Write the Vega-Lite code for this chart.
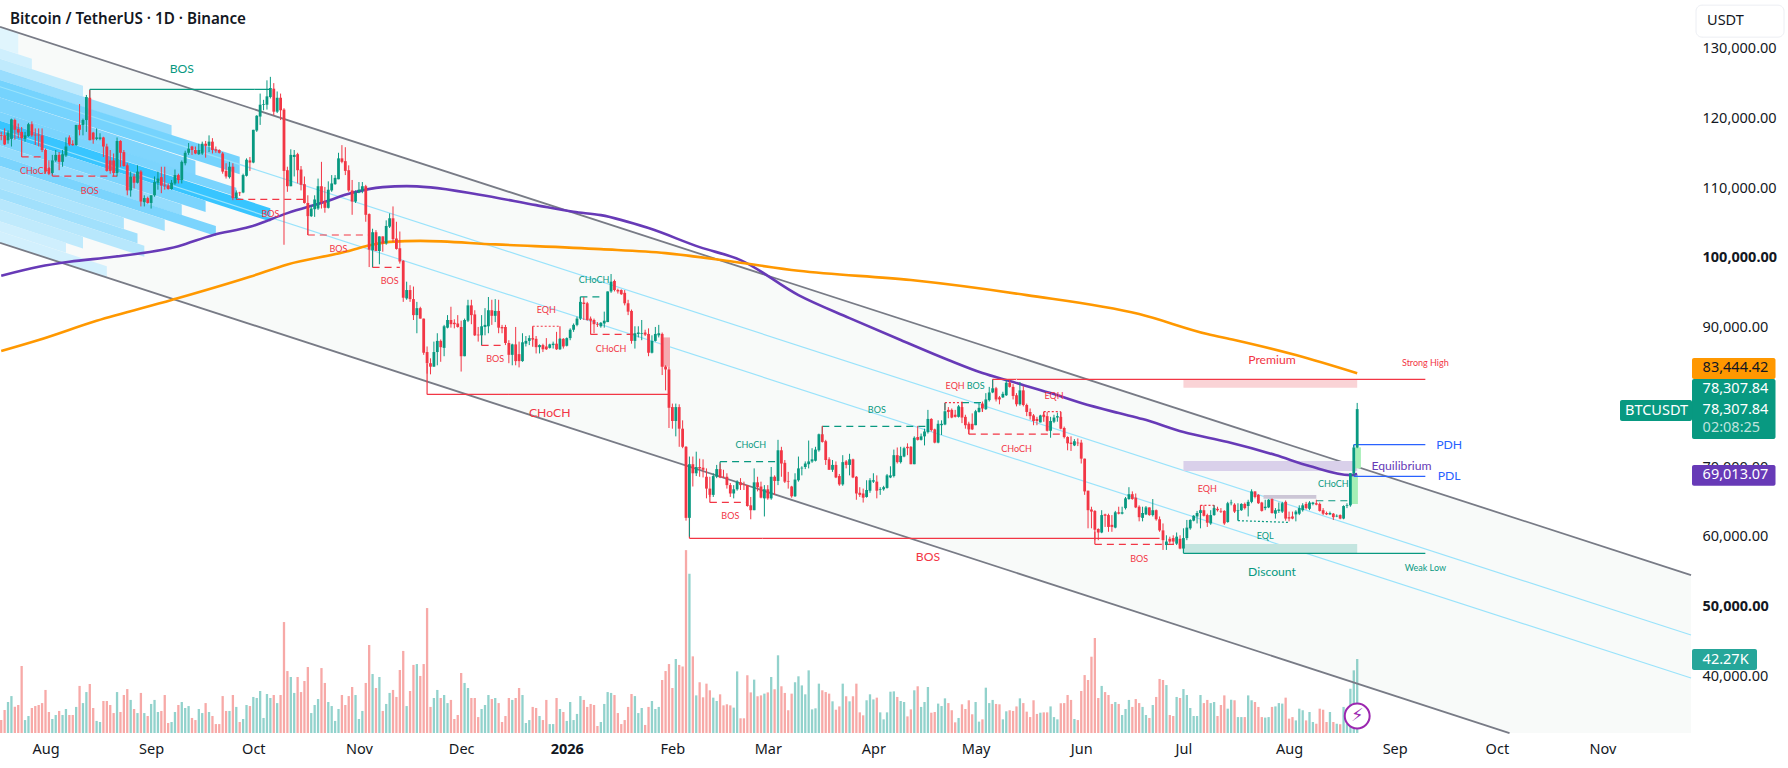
{
"$schema":"https://vega.github.io/schema/vega-lite/v6.json",
"width":1788,"height":768,"autosize":"none","padding":0,"background":"white",
"title":{"text":"Bitcoin / TetherUS · 1D · Binance","anchor":"start","frame":"group","offset":-27,"dx":10,"font":"Noto Sans","fontSize":15.2,"fontWeight":600,"color":"#131722"},
"config":{"view":{"stroke":null},"font":"Noto Sans"},
"datasets":{
"candles":[
{"d":"2025-07-19","o":117600,"h":118100,"l":116900,"c":117500,"v":7400},
{"d":"2025-07-20","o":117600,"h":118600,"l":116200,"c":116300,"v":13100},
{"d":"2025-07-21","o":116900,"h":118300,"l":116400,"c":118000,"v":17700},
{"d":"2025-07-22","o":117100,"h":120000,"l":116000,"c":119900,"v":21100},
{"d":"2025-07-23","o":119800,"h":120000,"l":117000,"c":118400,"v":15000},
{"d":"2025-07-24","o":118500,"h":119300,"l":117200,"c":118000,"v":16000},
{"d":"2025-07-25","o":118100,"h":118800,"l":116900,"c":117200,"v":38300},
{"d":"2025-07-26","o":117100,"h":118100,"l":116700,"c":117600,"v":7400},
{"d":"2025-07-27","o":117500,"h":119400,"l":117400,"c":119200,"v":9700},
{"d":"2025-07-28","o":119200,"h":119600,"l":117400,"c":117600,"v":14300},
{"d":"2025-07-29","o":117700,"h":118600,"l":116200,"c":117600,"v":15400},
{"d":"2025-07-30","o":117700,"h":118600,"l":116000,"c":117600,"v":16000},
{"d":"2025-07-31","o":117600,"h":118600,"l":115200,"c":115500,"v":17100},
{"d":"2025-08-01","o":115500,"h":115700,"l":112100,"c":112400,"v":24600},
{"d":"2025-08-02","o":112900,"h":114000,"l":111900,"c":112100,"v":12000},
{"d":"2025-08-03","o":112200,"h":114800,"l":112000,"c":114000,"v":8000},
{"d":"2025-08-04","o":114000,"h":115500,"l":113800,"c":114800,"v":10300},
{"d":"2025-08-05","o":114800,"h":115200,"l":112600,"c":113800,"v":12600},
{"d":"2025-08-06","o":113800,"h":115500,"l":113100,"c":114900,"v":10300},
{"d":"2025-08-07","o":114700,"h":117300,"l":114500,"c":116000,"v":13700},
{"d":"2025-08-08","o":117300,"h":117600,"l":116100,"c":116300,"v":10300},
{"d":"2025-08-09","o":116400,"h":116900,"l":116100,"c":116200,"v":10300},
{"d":"2025-08-10","o":116200,"h":119100,"l":116100,"c":119100,"v":14900},
{"d":"2025-08-11","o":119100,"h":122100,"l":117600,"c":118400,"v":26900},
{"d":"2025-08-12","o":119100,"h":120000,"l":117600,"c":119800,"v":17100},
{"d":"2025-08-13","o":119800,"h":123400,"l":118100,"c":123100,"v":23400},
{"d":"2025-08-14","o":123000,"h":124100,"l":116900,"c":116900,"v":28000},
{"d":"2025-08-15","o":118000,"h":118100,"l":116400,"c":117000,"v":14300},
{"d":"2025-08-16","o":117100,"h":118600,"l":116900,"c":117300,"v":6900},
{"d":"2025-08-17","o":117100,"h":117900,"l":116900,"c":117300,"v":6300},
{"d":"2025-08-18","o":117300,"h":117400,"l":114500,"c":116000,"v":18300},
{"d":"2025-08-19","o":116000,"h":116400,"l":112400,"c":112500,"v":18300},
{"d":"2025-08-20","o":114000,"h":115500,"l":112100,"c":112500,"v":16000},
{"d":"2025-08-21","o":114000,"h":115000,"l":111700,"c":112200,"v":11400},
{"d":"2025-08-22","o":112200,"h":117300,"l":111700,"c":116800,"v":23400},
{"d":"2025-08-23","o":116800,"h":116900,"l":113100,"c":115100,"v":12000},
{"d":"2025-08-24","o":115200,"h":115500,"l":113100,"c":113200,"v":21700},
{"d":"2025-08-25","o":113300,"h":113600,"l":109000,"c":109700,"v":25100},
{"d":"2025-08-26","o":109700,"h":112400,"l":108800,"c":111700,"v":18900},
{"d":"2025-08-27","o":111700,"h":112100,"l":110000,"c":110800,"v":13700},
{"d":"2025-08-28","o":110800,"h":113300,"l":110700,"c":112400,"v":11400},
{"d":"2025-08-29","o":112400,"h":112600,"l":107400,"c":108100,"v":22900},
{"d":"2025-08-30","o":108000,"h":109000,"l":107400,"c":108600,"v":11400},
{"d":"2025-08-31","o":108600,"h":108800,"l":107800,"c":107900,"v":9700},
{"d":"2025-09-01","o":107900,"h":109000,"l":107100,"c":109000,"v":16600},
{"d":"2025-09-02","o":109000,"h":111700,"l":108800,"c":110900,"v":18900},
{"d":"2025-09-03","o":110800,"h":112400,"l":109800,"c":111400,"v":12000},
{"d":"2025-09-04","o":111600,"h":113100,"l":109300,"c":110400,"v":12600},
{"d":"2025-09-05","o":110500,"h":113100,"l":109800,"c":110400,"v":21700},
{"d":"2025-09-06","o":110400,"h":110700,"l":109800,"c":109900,"v":5700},
{"d":"2025-09-07","o":109900,"h":111200,"l":109800,"c":110800,"v":6300},
{"d":"2025-09-08","o":110700,"h":112700,"l":110500,"c":111900,"v":12000},
{"d":"2025-09-09","o":111900,"h":112100,"l":110700,"c":111200,"v":16000},
{"d":"2025-09-10","o":111200,"h":114000,"l":110700,"c":113800,"v":17700},
{"d":"2025-09-11","o":113600,"h":115400,"l":113300,"c":115100,"v":14300},
{"d":"2025-09-12","o":115100,"h":116500,"l":114800,"c":115700,"v":15400},
{"d":"2025-09-13","o":116000,"h":116100,"l":114800,"c":115500,"v":8600},
{"d":"2025-09-14","o":115500,"h":116000,"l":114900,"c":115000,"v":7400},
{"d":"2025-09-15","o":114900,"h":116400,"l":114800,"c":115500,"v":13700},
{"d":"2025-09-16","o":115000,"h":116700,"l":114800,"c":116400,"v":11400},
{"d":"2025-09-17","o":116400,"h":116800,"l":114400,"c":116100,"v":17100},
{"d":"2025-09-18","o":116100,"h":117600,"l":115200,"c":116700,"v":12000},
{"d":"2025-09-19","o":116700,"h":117200,"l":115000,"c":115500,"v":9700},
{"d":"2025-09-20","o":115600,"h":116000,"l":115100,"c":115400,"v":5100},
{"d":"2025-09-21","o":115500,"h":115600,"l":115000,"c":115100,"v":5100},
{"d":"2025-09-22","o":115000,"h":115200,"l":112100,"c":112400,"v":21100},
{"d":"2025-09-23","o":112500,"h":113600,"l":111400,"c":111700,"v":12600},
{"d":"2025-09-24","o":111600,"h":113800,"l":111400,"c":113100,"v":12600},
{"d":"2025-09-25","o":113100,"h":113600,"l":108300,"c":108600,"v":21700},
{"d":"2025-09-26","o":108600,"h":109700,"l":108400,"c":109400,"v":14900},
{"d":"2025-09-27","o":109400,"h":109500,"l":108900,"c":109300,"v":6300},
{"d":"2025-09-28","o":109400,"h":112100,"l":109300,"c":111900,"v":8000},
{"d":"2025-09-29","o":111800,"h":114300,"l":111700,"c":114100,"v":16000},
{"d":"2025-09-30","o":114000,"h":114500,"l":112500,"c":113700,"v":15400},
{"d":"2025-10-01","o":113700,"h":118400,"l":113600,"c":118400,"v":20600},
{"d":"2025-10-02","o":118300,"h":120500,"l":118100,"c":120400,"v":20000},
{"d":"2025-10-03","o":120300,"h":123600,"l":119100,"c":122000,"v":24000},
{"d":"2025-10-04","o":122000,"h":122700,"l":121200,"c":122100,"v":8600},
{"d":"2025-10-05","o":122000,"h":125500,"l":121300,"c":123200,"v":22300},
{"d":"2025-10-06","o":123100,"h":126000,"l":122900,"c":124400,"v":20000},
{"d":"2025-10-07","o":124300,"h":125100,"l":120500,"c":121000,"v":21700},
{"d":"2025-10-08","o":121000,"h":123900,"l":120800,"c":123000,"v":17100},
{"d":"2025-10-09","o":123000,"h":123600,"l":119800,"c":121200,"v":21700},
{"d":"2025-10-10","o":121300,"h":121500,"l":101900,"c":112500,"v":63400},
{"d":"2025-10-11","o":112600,"h":113100,"l":109500,"c":110300,"v":35400},
{"d":"2025-10-12","o":110300,"h":115600,"l":110300,"c":114800,"v":32000},
{"d":"2025-10-13","o":114500,"h":115500,"l":111700,"c":114800,"v":22900},
{"d":"2025-10-14","o":114900,"h":115100,"l":110700,"c":112600,"v":32000},
{"d":"2025-10-15","o":112700,"h":113200,"l":109700,"c":110500,"v":23400},
{"d":"2025-10-16","o":110600,"h":111700,"l":107800,"c":107900,"v":29700},
{"d":"2025-10-17","o":107900,"h":109000,"l":103300,"c":106000,"v":37700},
{"d":"2025-10-18","o":106000,"h":107600,"l":105900,"c":107100,"v":11400},
{"d":"2025-10-19","o":107000,"h":109000,"l":105900,"c":108400,"v":16000},
{"d":"2025-10-20","o":107100,"h":111400,"l":106900,"c":110300,"v":19400},
{"d":"2025-10-21","o":110300,"h":113800,"l":107100,"c":108000,"v":37100},
{"d":"2025-10-22","o":108100,"h":110200,"l":106500,"c":107200,"v":28600},
{"d":"2025-10-23","o":107200,"h":111000,"l":107100,"c":109800,"v":17700},
{"d":"2025-10-24","o":109700,"h":111900,"l":109500,"c":110700,"v":15400},
{"d":"2025-10-25","o":110600,"h":111900,"l":110500,"c":111500,"v":6900},
{"d":"2025-10-26","o":111300,"h":115100,"l":111300,"c":114300,"v":13700},
{"d":"2025-10-27","o":114300,"h":116200,"l":113600,"c":113800,"v":21700},
{"d":"2025-10-28","o":113900,"h":115900,"l":111900,"c":112500,"v":16000},
{"d":"2025-10-29","o":112600,"h":113300,"l":109500,"c":109700,"v":21100},
{"d":"2025-10-30","o":109700,"h":111200,"l":106200,"c":108100,"v":26300},
{"d":"2025-10-31","o":108100,"h":109700,"l":107900,"c":109400,"v":21700},
{"d":"2025-11-01","o":109400,"h":110900,"l":109300,"c":109800,"v":8000},
{"d":"2025-11-02","o":109700,"h":110900,"l":109300,"c":110300,"v":12600},
{"d":"2025-11-03","o":110300,"h":110500,"l":105200,"c":106200,"v":28600},
{"d":"2025-11-04","o":106300,"h":106400,"l":98700,"c":101200,"v":50300},
{"d":"2025-11-05","o":101100,"h":104200,"l":98700,"c":103700,"v":33700},
{"d":"2025-11-06","o":103700,"h":104000,"l":101000,"c":101000,"v":25700},
{"d":"2025-11-07","o":101000,"h":103100,"l":99100,"c":103100,"v":32000},
{"d":"2025-11-08","o":103100,"h":103100,"l":100900,"c":102100,"v":12600},
{"d":"2025-11-09","o":102100,"h":105400,"l":101900,"c":104600,"v":16600},
{"d":"2025-11-10","o":104500,"h":106400,"l":104300,"c":105700,"v":22900},
{"d":"2025-11-11","o":105700,"h":107400,"l":102300,"c":102700,"v":24600},
{"d":"2025-11-12","o":102800,"h":105200,"l":101200,"c":101300,"v":20600},
{"d":"2025-11-13","o":101400,"h":103800,"l":99200,"c":99500,"v":36000},
{"d":"2025-11-14","o":99600,"h":99700,"l":93700,"c":94300,"v":46900},
{"d":"2025-11-15","o":94200,"h":96600,"l":94000,"c":95400,"v":15400},
{"d":"2025-11-16","o":95400,"h":96100,"l":93700,"c":94100,"v":24000},
{"d":"2025-11-17","o":94100,"h":95900,"l":91100,"c":91800,"v":38900},
{"d":"2025-11-18","o":91800,"h":93700,"l":89200,"c":92800,"v":39400},
{"d":"2025-11-19","o":92800,"h":93000,"l":91300,"c":91300,"v":32600},
{"d":"2025-11-20","o":91300,"h":91300,"l":86100,"c":86400,"v":39400},
{"d":"2025-11-21","o":86500,"h":87300,"l":83400,"c":84900,"v":71400},
{"d":"2025-11-22","o":84900,"h":85600,"l":83300,"c":84400,"v":14900},
{"d":"2025-11-23","o":84400,"h":88000,"l":84400,"c":86500,"v":20000},
{"d":"2025-11-24","o":86500,"h":89200,"l":84600,"c":88100,"v":24600},
{"d":"2025-11-25","o":88100,"h":88300,"l":85100,"c":87200,"v":20000},
{"d":"2025-11-26","o":87100,"h":90400,"l":85900,"c":90200,"v":21700},
{"d":"2025-11-27","o":90000,"h":91800,"l":89900,"c":91100,"v":17100},
{"d":"2025-11-28","o":91100,"h":93000,"l":90000,"c":90500,"v":18900},
{"d":"2025-11-29","o":90700,"h":91200,"l":89900,"c":90500,"v":8000},
{"d":"2025-11-30","o":90600,"h":91800,"l":90000,"c":90100,"v":10300},
{"d":"2025-12-01","o":90100,"h":91000,"l":83700,"c":85900,"v":34300},
{"d":"2025-12-02","o":85900,"h":91300,"l":85900,"c":91100,"v":28600},
{"d":"2025-12-03","o":91000,"h":94000,"l":90800,"c":93200,"v":25700},
{"d":"2025-12-04","o":93200,"h":94000,"l":90500,"c":91800,"v":20000},
{"d":"2025-12-05","o":91900,"h":92500,"l":88800,"c":88900,"v":20000},
{"d":"2025-12-06","o":89000,"h":90100,"l":88000,"c":88900,"v":9100},
{"d":"2025-12-07","o":88900,"h":91800,"l":87500,"c":90200,"v":13700},
{"d":"2025-12-08","o":90100,"h":92800,"l":88900,"c":90400,"v":16000},
{"d":"2025-12-09","o":90200,"h":94400,"l":89200,"c":92500,"v":21700},
{"d":"2025-12-10","o":92500,"h":94000,"l":90400,"c":91700,"v":19400},
{"d":"2025-12-11","o":91700,"h":94100,"l":90800,"c":92400,"v":20000},
{"d":"2025-12-12","o":92400,"h":94000,"l":89200,"c":90000,"v":17100},
{"d":"2025-12-13","o":90100,"h":90400,"l":89200,"c":89900,"v":6300},
{"d":"2025-12-14","o":90100,"h":90400,"l":87500,"c":87800,"v":9700},
{"d":"2025-12-15","o":87800,"h":88200,"l":84900,"c":86100,"v":20000},
{"d":"2025-12-16","o":86100,"h":87700,"l":84600,"c":87600,"v":18900},
{"d":"2025-12-17","o":87600,"h":90100,"l":84600,"c":85200,"v":20000},
{"d":"2025-12-18","o":86200,"h":88000,"l":84300,"c":85200,"v":25700},
{"d":"2025-12-19","o":85200,"h":89200,"l":85100,"c":87900,"v":21700},
{"d":"2025-12-20","o":87700,"h":88800,"l":87300,"c":88100,"v":5700},
{"d":"2025-12-21","o":88100,"h":88900,"l":87500,"c":88500,"v":7400},
{"d":"2025-12-22","o":88500,"h":90100,"l":88200,"c":88300,"v":14900},
{"d":"2025-12-23","o":88400,"h":88800,"l":86300,"c":87200,"v":14300},
{"d":"2025-12-24","o":87200,"h":87600,"l":86300,"c":87500,"v":9700},
{"d":"2025-12-25","o":87500,"h":87700,"l":86500,"c":86900,"v":7400},
{"d":"2025-12-26","o":87300,"h":88500,"l":86800,"c":86900,"v":18900},
{"d":"2025-12-27","o":87100,"h":87700,"l":87000,"c":87600,"v":5100},
{"d":"2025-12-28","o":87500,"h":88000,"l":87000,"c":87700,"v":5100},
{"d":"2025-12-29","o":87700,"h":89400,"l":86800,"c":86900,"v":20000},
{"d":"2025-12-30","o":86900,"h":88500,"l":86800,"c":88400,"v":13700},
{"d":"2025-12-31","o":88400,"h":88500,"l":87000,"c":87300,"v":12000},
{"d":"2026-01-01","o":87400,"h":88600,"l":87300,"c":88500,"v":6900},
{"d":"2026-01-02","o":88500,"h":89900,"l":88200,"c":89700,"v":17700},
{"d":"2026-01-03","o":89700,"h":90600,"l":89400,"c":90400,"v":7400},
{"d":"2026-01-04","o":90400,"h":91600,"l":90200,"c":91300,"v":10900},
{"d":"2026-01-05","o":91300,"h":94400,"l":91100,"c":93700,"v":21100},
{"d":"2026-01-06","o":93600,"h":94400,"l":91100,"c":93400,"v":18900},
{"d":"2026-01-07","o":93500,"h":93700,"l":91000,"c":91100,"v":14900},
{"d":"2026-01-08","o":91300,"h":91600,"l":90400,"c":91000,"v":16600},
{"d":"2026-01-09","o":91100,"h":91300,"l":89200,"c":90500,"v":16000},
{"d":"2026-01-10","o":90500,"h":90800,"l":90100,"c":90400,"v":4000},
{"d":"2026-01-11","o":90200,"h":90800,"l":90000,"c":90700,"v":6300},
{"d":"2026-01-12","o":90600,"h":92300,"l":90000,"c":91000,"v":16600},
{"d":"2026-01-13","o":90800,"h":95200,"l":90800,"c":95200,"v":23400},
{"d":"2026-01-14","o":95200,"h":97700,"l":95000,"c":96600,"v":22900},
{"d":"2026-01-15","o":96700,"h":96900,"l":95200,"c":95400,"v":21700},
{"d":"2026-01-16","o":95400,"h":95600,"l":94900,"c":95200,"v":11400},
{"d":"2026-01-17","o":95400,"h":95500,"l":94700,"c":94800,"v":5100},
{"d":"2026-01-18","o":95000,"h":95400,"l":93200,"c":93500,"v":7400},
{"d":"2026-01-19","o":93500,"h":94000,"l":91800,"c":92300,"v":14900},
{"d":"2026-01-20","o":92400,"h":92600,"l":87700,"c":88100,"v":22300},
{"d":"2026-01-21","o":88100,"h":90200,"l":87000,"c":89200,"v":21100},
{"d":"2026-01-22","o":89100,"h":90200,"l":88600,"c":89300,"v":11400},
{"d":"2026-01-23","o":89100,"h":91100,"l":88200,"c":89200,"v":14300},
{"d":"2026-01-24","o":89300,"h":89700,"l":88800,"c":89000,"v":4600},
{"d":"2026-01-25","o":89100,"h":89900,"l":85900,"c":86400,"v":14900},
{"d":"2026-01-26","o":86400,"h":88900,"l":86300,"c":88100,"v":18300},
{"d":"2026-01-27","o":88100,"h":90100,"l":88000,"c":89100,"v":13700},
{"d":"2026-01-28","o":88900,"h":90400,"l":88600,"c":89200,"v":14900},
{"d":"2026-01-29","o":89100,"h":89300,"l":83200,"c":84400,"v":30300},
{"d":"2026-01-30","o":84400,"h":84600,"l":81000,"c":84000,"v":35400},
{"d":"2026-01-31","o":84000,"h":84400,"l":75600,"c":78500,"v":39400},
{"d":"2026-02-01","o":78600,"h":79100,"l":75500,"c":76600,"v":25700},
{"d":"2026-02-02","o":76600,"h":79100,"l":74400,"c":78600,"v":42300},
{"d":"2026-02-03","o":78600,"h":79000,"l":72900,"c":75500,"v":38900},
{"d":"2026-02-04","o":75500,"h":76700,"l":72700,"c":72900,"v":38000},
{"d":"2026-02-05","o":72900,"h":73000,"l":62300,"c":62700,"v":104500},
{"d":"2026-02-06","o":62700,"h":71500,"l":60000,"c":70400,"v":91000},
{"d":"2026-02-07","o":70400,"h":71500,"l":67200,"c":69100,"v":43800},
{"d":"2026-02-08","o":69100,"h":72200,"l":68700,"c":70000,"v":21500},
{"d":"2026-02-09","o":70000,"h":71200,"l":68600,"c":69800,"v":29000},
{"d":"2026-02-10","o":69900,"h":71100,"l":68500,"c":69600,"v":20400},
{"d":"2026-02-11","o":68600,"h":69800,"l":65500,"c":66900,"v":28200},
{"d":"2026-02-12","o":66900,"h":68600,"l":65700,"c":66000,"v":24400},
{"d":"2026-02-13","o":66000,"h":69100,"l":65700,"c":68700,"v":20200},
{"d":"2026-02-14","o":68600,"h":70300,"l":68400,"c":69700,"v":18300},
{"d":"2026-02-15","o":69700,"h":70500,"l":68400,"c":68500,"v":22100},
{"d":"2026-02-16","o":68600,"h":69600,"l":68400,"c":68500,"v":15800},
{"d":"2026-02-17","o":68600,"h":69100,"l":66900,"c":67400,"v":16400},
{"d":"2026-02-18","o":67400,"h":67700,"l":65700,"c":66200,"v":15800},
{"d":"2026-02-19","o":66200,"h":67400,"l":65500,"c":66800,"v":14500},
{"d":"2026-02-20","o":66800,"h":68100,"l":66600,"c":67900,"v":35200},
{"d":"2026-02-21","o":67800,"h":68400,"l":66700,"c":67400,"v":8400},
{"d":"2026-02-22","o":67500,"h":67900,"l":66700,"c":67400,"v":8400},
{"d":"2026-02-23","o":67400,"h":67400,"l":64300,"c":64400,"v":33000},
{"d":"2026-02-24","o":64500,"h":65700,"l":62500,"c":63800,"v":23200},
{"d":"2026-02-25","o":63800,"h":69800,"l":63800,"c":67800,"v":30500},
{"d":"2026-02-26","o":67800,"h":68600,"l":66500,"c":67100,"v":21000},
{"d":"2026-02-27","o":67200,"h":67900,"l":65500,"c":65600,"v":21500},
{"d":"2026-02-28","o":65500,"h":67400,"l":62900,"c":66800,"v":22500},
{"d":"2026-03-01","o":66800,"h":67400,"l":65300,"c":65500,"v":23200},
{"d":"2026-03-02","o":65500,"h":70000,"l":65300,"c":68600,"v":32000},
{"d":"2026-03-03","o":68600,"h":68800,"l":66000,"c":68000,"v":25000},
{"d":"2026-03-04","o":68000,"h":73900,"l":67400,"c":72400,"v":44400},
{"d":"2026-03-05","o":72400,"h":72900,"l":68600,"c":70500,"v":26700},
{"d":"2026-03-06","o":70600,"h":71000,"l":67700,"c":67900,"v":22900},
{"d":"2026-03-07","o":68000,"h":69300,"l":66900,"c":67900,"v":13000},
{"d":"2026-03-08","o":67200,"h":67300,"l":65600,"c":65800,"v":22500},
{"d":"2026-03-09","o":65800,"h":69100,"l":65700,"c":68200,"v":29000},
{"d":"2026-03-10","o":68100,"h":71500,"l":67900,"c":69800,"v":32400},
{"d":"2026-03-11","o":69800,"h":70100,"l":68800,"c":69900,"v":27200},
{"d":"2026-03-12","o":70000,"h":70800,"l":69700,"c":70500,"v":22100},
{"d":"2026-03-13","o":70400,"h":73800,"l":69800,"c":70800,"v":35800},
{"d":"2026-03-14","o":70800,"h":72700,"l":70600,"c":71100,"v":13500},
{"d":"2026-03-15","o":70900,"h":72900,"l":70800,"c":72500,"v":14100},
{"d":"2026-03-16","o":72400,"h":74800,"l":72200,"c":74700,"v":28200},
{"d":"2026-03-17","o":74700,"h":75900,"l":73500,"c":73600,"v":24400},
{"d":"2026-03-18","o":73700,"h":73900,"l":70300,"c":71000,"v":23400},
{"d":"2026-03-19","o":71100,"h":71400,"l":69600,"c":69600,"v":22500},
{"d":"2026-03-20","o":69600,"h":71000,"l":69300,"c":70300,"v":18100},
{"d":"2026-03-21","o":70300,"h":70800,"l":68400,"c":68500,"v":13300},
{"d":"2026-03-22","o":68700,"h":69000,"l":67300,"c":67500,"v":15200},
{"d":"2026-03-23","o":67500,"h":71700,"l":67300,"c":70700,"v":28200},
{"d":"2026-03-24","o":70800,"h":71000,"l":69800,"c":70300,"v":21000},
{"d":"2026-03-25","o":70300,"h":71900,"l":68800,"c":71100,"v":18100},
{"d":"2026-03-26","o":71100,"h":71200,"l":68400,"c":68500,"v":21000},
{"d":"2026-03-27","o":68600,"h":68700,"l":65300,"c":66200,"v":28200},
{"d":"2026-03-28","o":66300,"h":67100,"l":65700,"c":66000,"v":11800},
{"d":"2026-03-29","o":66200,"h":66900,"l":64900,"c":65600,"v":10100},
{"d":"2026-03-30","o":65700,"h":68100,"l":65600,"c":66700,"v":18700},
{"d":"2026-03-31","o":66600,"h":68400,"l":66300,"c":68100,"v":22100},
{"d":"2026-04-01","o":67900,"h":69100,"l":67700,"c":68100,"v":19200},
{"d":"2026-04-02","o":67900,"h":68800,"l":65500,"c":66600,"v":20200},
{"d":"2026-04-03","o":66700,"h":67100,"l":66000,"c":66800,"v":11800},
{"d":"2026-04-04","o":66800,"h":67300,"l":66600,"c":67100,"v":7800},
{"d":"2026-04-05","o":67000,"h":69000,"l":66900,"c":68800,"v":11800},
{"d":"2026-04-06","o":68500,"h":70100,"l":68400,"c":68800,"v":23600},
{"d":"2026-04-07","o":68700,"h":72500,"l":68500,"c":71700,"v":23800},
{"d":"2026-04-08","o":71700,"h":72800,"l":70500,"c":70700,"v":20600},
{"d":"2026-04-09","o":70700,"h":72900,"l":70500,"c":71600,"v":18300},
{"d":"2026-04-10","o":71500,"h":72900,"l":71400,"c":72700,"v":17700},
{"d":"2026-04-11","o":72900,"h":73400,"l":71700,"c":72700,"v":9500},
{"d":"2026-04-12","o":72900,"h":73000,"l":70400,"c":70400,"v":13500},
{"d":"2026-04-13","o":70400,"h":74400,"l":70400,"c":74200,"v":24400},
{"d":"2026-04-14","o":74300,"h":75900,"l":73800,"c":73900,"v":26700},
{"d":"2026-04-15","o":73900,"h":74800,"l":73800,"c":74400,"v":14900},
{"d":"2026-04-16","o":74400,"h":75500,"l":73100,"c":75100,"v":17700},
{"d":"2026-04-17","o":75000,"h":78200,"l":74800,"c":76900,"v":26300},
{"d":"2026-04-18","o":76900,"h":77000,"l":75100,"c":75300,"v":11600},
{"d":"2026-04-19","o":75400,"h":75500,"l":73400,"c":73500,"v":12000},
{"d":"2026-04-20","o":73500,"h":76700,"l":73400,"c":76200,"v":16800},
{"d":"2026-04-21","o":76000,"h":76700,"l":74600,"c":76200,"v":15400},
{"d":"2026-04-22","o":76100,"h":79200,"l":76000,"c":78000,"v":19800},
{"d":"2026-04-23","o":78200,"h":78600,"l":77000,"c":77900,"v":17100},
{"d":"2026-04-24","o":78200,"h":78400,"l":77000,"c":77100,"v":13000},
{"d":"2026-04-25","o":77500,"h":78200,"l":77100,"c":77200,"v":6100},
{"d":"2026-04-26","o":77200,"h":78900,"l":77100,"c":78700,"v":8600},
{"d":"2026-04-27","o":78600,"h":79400,"l":76300,"c":77100,"v":16400},
{"d":"2026-04-28","o":77200,"h":77500,"l":75500,"c":76000,"v":13700},
{"d":"2026-04-29","o":76200,"h":76500,"l":74700,"c":75400,"v":18700},
{"d":"2026-04-30","o":76200,"h":77700,"l":75300,"c":75400,"v":10700},
{"d":"2026-05-01","o":76000,"h":78200,"l":76000,"c":78000,"v":17700},
{"d":"2026-05-02","o":77900,"h":79200,"l":77800,"c":78500,"v":6500},
{"d":"2026-05-03","o":79100,"h":79400,"l":77900,"c":78400,"v":7800},
{"d":"2026-05-04","o":78300,"h":80600,"l":78200,"c":79700,"v":25900},
{"d":"2026-05-05","o":79600,"h":81500,"l":79400,"c":80700,"v":17100},
{"d":"2026-05-06","o":80700,"h":82500,"l":80600,"c":81300,"v":18900},
{"d":"2026-05-07","o":81300,"h":81500,"l":79400,"c":79700,"v":16600},
{"d":"2026-05-08","o":80000,"h":80200,"l":79000,"c":79700,"v":16400},
{"d":"2026-05-09","o":80000,"h":80800,"l":79900,"c":80500,"v":7800},
{"d":"2026-05-10","o":80300,"h":82500,"l":80200,"c":82100,"v":12400},
{"d":"2026-05-11","o":82100,"h":82500,"l":81400,"c":81500,"v":13000},
{"d":"2026-05-12","o":81500,"h":81900,"l":79700,"c":80200,"v":12600},
{"d":"2026-05-13","o":80300,"h":80600,"l":78700,"c":79000,"v":15200},
{"d":"2026-05-14","o":79000,"h":82200,"l":78800,"c":81000,"v":19800},
{"d":"2026-05-15","o":81000,"h":81600,"l":78700,"c":78900,"v":17100},
{"d":"2026-05-16","o":78900,"h":79100,"l":77300,"c":77900,"v":12200},
{"d":"2026-05-17","o":77900,"h":78400,"l":76800,"c":77300,"v":9100},
{"d":"2026-05-18","o":77400,"h":77600,"l":76000,"c":76600,"v":18700},
{"d":"2026-05-19","o":76900,"h":77200,"l":76000,"c":76600,"v":10900},
{"d":"2026-05-20","o":76400,"h":77500,"l":76400,"c":77400,"v":11600},
{"d":"2026-05-21","o":77500,"h":77900,"l":77100,"c":77200,"v":11800},
{"d":"2026-05-22","o":77300,"h":77900,"l":75100,"c":75200,"v":11800},
{"d":"2026-05-23","o":75200,"h":77200,"l":74200,"c":76600,"v":15200},
{"d":"2026-05-24","o":76500,"h":77500,"l":76300,"c":77100,"v":9100},
{"d":"2026-05-25","o":77100,"h":77800,"l":76500,"c":77300,"v":7800},
{"d":"2026-05-26","o":77200,"h":77900,"l":75400,"c":75500,"v":17000},
{"d":"2026-05-27","o":75600,"h":75800,"l":74100,"c":74300,"v":17100},
{"d":"2026-05-28","o":74300,"h":74400,"l":72400,"c":73400,"v":21700},
{"d":"2026-05-29","o":73500,"h":74400,"l":72300,"c":73300,"v":18900},
{"d":"2026-05-30","o":73100,"h":74000,"l":73000,"c":73700,"v":8000},
{"d":"2026-05-31","o":73500,"h":74100,"l":73000,"c":73400,"v":7400},
{"d":"2026-06-01","o":73500,"h":73900,"l":70500,"c":71200,"v":24000},
{"d":"2026-06-02","o":71200,"h":71200,"l":66000,"c":66500,"v":33100},
{"d":"2026-06-03","o":66600,"h":66600,"l":61200,"c":63800,"v":30300},
{"d":"2026-06-04","o":63900,"h":64300,"l":61200,"c":63600,"v":43600},
{"d":"2026-06-05","o":63700,"h":63800,"l":59500,"c":61000,"v":54300},
{"d":"2026-06-06","o":61100,"h":61200,"l":59500,"c":60600,"v":20000},
{"d":"2026-06-07","o":60600,"h":63800,"l":60500,"c":63100,"v":26900},
{"d":"2026-06-08","o":63200,"h":63300,"l":61400,"c":63000,"v":23400},
{"d":"2026-06-09","o":63100,"h":63300,"l":60700,"c":61400,"v":21700},
{"d":"2026-06-10","o":61700,"h":63100,"l":60700,"c":61400,"v":16600},
{"d":"2026-06-11","o":61300,"h":63700,"l":61200,"c":63500,"v":17700},
{"d":"2026-06-12","o":63500,"h":64300,"l":63200,"c":63300,"v":16600},
{"d":"2026-06-13","o":63300,"h":64300,"l":63200,"c":63500,"v":10300},
{"d":"2026-06-14","o":64100,"h":65700,"l":63900,"c":65500,"v":13700},
{"d":"2026-06-15","o":65400,"h":67100,"l":65300,"c":66100,"v":18900},
{"d":"2026-06-16","o":66100,"h":66500,"l":65300,"c":65400,"v":14900},
{"d":"2026-06-17","o":65600,"h":66200,"l":64100,"c":64200,"v":19400},
{"d":"2026-06-18","o":64300,"h":64500,"l":62200,"c":62800,"v":17100},
{"d":"2026-06-19","o":62700,"h":64300,"l":62200,"c":63400,"v":14900},
{"d":"2026-06-20","o":63200,"h":64400,"l":63100,"c":64200,"v":10300},
{"d":"2026-06-21","o":64200,"h":64200,"l":63000,"c":63100,"v":8600},
{"d":"2026-06-22","o":63100,"h":65400,"l":62900,"c":63800,"v":16000},
{"d":"2026-06-23","o":63800,"h":63900,"l":62300,"c":62500,"v":20600},
{"d":"2026-06-24","o":62500,"h":62900,"l":60700,"c":60900,"v":30900},
{"d":"2026-06-25","o":60900,"h":61900,"l":58100,"c":59500,"v":30300},
{"d":"2026-06-26","o":58800,"h":60200,"l":58100,"c":59300,"v":27400},
{"d":"2026-06-27","o":59700,"h":60000,"l":59000,"c":59300,"v":10300},
{"d":"2026-06-28","o":59800,"h":60200,"l":58800,"c":59300,"v":9700},
{"d":"2026-06-29","o":59000,"h":60600,"l":58800,"c":60000,"v":20600},
{"d":"2026-06-30","o":59700,"h":60200,"l":58200,"c":58300,"v":20000},
{"d":"2026-07-01","o":58300,"h":61200,"l":58200,"c":59800,"v":25100},
{"d":"2026-07-02","o":59800,"h":62400,"l":59500,"c":61300,"v":21700},
{"d":"2026-07-03","o":61200,"h":62500,"l":61000,"c":62400,"v":14300},
{"d":"2026-07-04","o":62300,"h":63100,"l":62200,"c":63000,"v":9700},
{"d":"2026-07-05","o":62900,"h":63700,"l":61900,"c":63400,"v":9700},
{"d":"2026-07-06","o":63400,"h":63900,"l":61200,"c":63800,"v":21700},
{"d":"2026-07-07","o":63800,"h":64500,"l":62900,"c":63000,"v":17100},
{"d":"2026-07-08","o":63100,"h":63300,"l":61400,"c":62000,"v":18900},
{"d":"2026-07-09","o":61900,"h":63800,"l":61700,"c":63100,"v":17100},
{"d":"2026-07-10","o":63100,"h":64500,"l":63000,"c":64100,"v":17700},
{"d":"2026-07-11","o":64000,"h":64300,"l":63600,"c":63800,"v":9700},
{"d":"2026-07-12","o":63700,"h":64100,"l":63400,"c":63600,"v":16000},
{"d":"2026-07-13","o":63700,"h":63800,"l":61700,"c":61900,"v":21500},
{"d":"2026-07-14","o":62100,"h":65000,"l":62000,"c":64800,"v":13900},
{"d":"2026-07-15","o":64800,"h":65300,"l":64500,"c":64900,"v":19000},
{"d":"2026-07-16","o":64600,"h":64800,"l":63400,"c":63600,"v":18700},
{"d":"2026-07-17","o":63700,"h":64800,"l":62400,"c":63800,"v":9100},
{"d":"2026-07-18","o":63800,"h":64800,"l":63700,"c":64700,"v":9100},
{"d":"2026-07-19","o":64700,"h":64900,"l":63900,"c":64100,"v":9100},
{"d":"2026-07-20","o":64400,"h":65300,"l":62900,"c":65000,"v":21500},
{"d":"2026-07-21","o":65000,"h":66800,"l":64800,"c":66500,"v":18700},
{"d":"2026-07-22","o":66500,"h":66500,"l":65500,"c":65700,"v":17700},
{"d":"2026-07-23","o":66000,"h":66100,"l":64700,"c":64800,"v":14900},
{"d":"2026-07-24","o":64900,"h":65000,"l":63600,"c":63700,"v":9100},
{"d":"2026-07-25","o":64100,"h":65300,"l":63800,"c":64300,"v":8800},
{"d":"2026-07-26","o":64200,"h":65400,"l":64100,"c":65300,"v":9100},
{"d":"2026-07-27","o":65400,"h":65500,"l":63300,"c":63400,"v":14900},
{"d":"2026-07-28","o":63300,"h":64100,"l":62600,"c":63800,"v":15200},
{"d":"2026-07-29","o":63700,"h":64900,"l":63400,"c":63900,"v":17100},
{"d":"2026-07-30","o":63600,"h":65000,"l":63400,"c":64800,"v":16800},
{"d":"2026-07-31","o":65000,"h":65200,"l":62300,"c":62600,"v":20200},
{"d":"2026-08-01","o":62800,"h":63600,"l":62200,"c":62600,"v":8200},
{"d":"2026-08-02","o":62900,"h":63600,"l":62500,"c":62600,"v":9100},
{"d":"2026-08-03","o":63200,"h":63800,"l":62200,"c":63600,"v":7200},
{"d":"2026-08-04","o":63300,"h":64500,"l":63100,"c":64100,"v":13900},
{"d":"2026-08-05","o":63800,"h":64800,"l":63600,"c":64500,"v":13000},
{"d":"2026-08-06","o":64700,"h":65000,"l":63900,"c":64100,"v":7200},
{"d":"2026-08-07","o":64000,"h":65100,"l":63800,"c":64900,"v":12000},
{"d":"2026-08-08","o":64700,"h":65000,"l":64500,"c":64900,"v":6300},
{"d":"2026-08-09","o":64800,"h":65300,"l":64500,"c":64600,"v":5300},
{"d":"2026-08-10","o":64700,"h":64900,"l":63600,"c":63700,"v":13900},
{"d":"2026-08-11","o":63800,"h":64100,"l":63100,"c":63300,"v":13300},
{"d":"2026-08-12","o":63400,"h":63600,"l":63100,"c":63200,"v":6300},
{"d":"2026-08-13","o":63200,"h":63600,"l":63100,"c":63400,"v":12000},
{"d":"2026-08-14","o":63300,"h":63400,"l":62400,"c":62800,"v":6300},
{"d":"2026-08-15","o":62900,"h":63200,"l":62800,"c":63000,"v":5300},
{"d":"2026-08-16","o":63100,"h":63200,"l":62500,"c":62600,"v":5000},
{"d":"2026-08-17","o":62600,"h":64500,"l":62500,"c":64400,"v":14900},
{"d":"2026-08-18","o":64400,"h":64800,"l":64100,"c":64500,"v":5300},
{"d":"2026-08-19","o":64500,"h":69100,"l":64300,"c":69100,"v":25300},
{"d":"2026-08-20","o":69100,"h":73200,"l":68800,"c":72800,"v":35800},
{"d":"2026-08-21","o":72800,"h":79200,"l":72700,"c":78308,"v":42270}
],
"channel":[
{"d":"2025-07-18T15:29:00Z","top":133170,"bot":102180},
{"d":"2026-10-04T16:55:00Z","top":62930,"bot":31818},
{"d":"2026-11-26T23:29:00Z","top":54490,"bot":31818}
],
"rays":[
{"d":"2025-07-18T15:29:00Z","d2":"2026-11-26T23:29:00Z","p":133170,"p2":54490,"k":"outer"},
{"d":"2025-07-18T15:29:00Z","d2":"2026-10-04T16:55:00Z","p":102180,"p2":31818,"k":"outer"},
{"d":"2025-07-18T15:29:00Z","d2":"2026-11-26T23:29:00Z","p":124580,"p2":45880,"k":"inner"},
{"d":"2025-07-18T15:29:00Z","d2":"2026-11-26T23:29:00Z","p":118410,"p2":39710,"k":"inner"}
],
"bands":[
{"b":"A","lvl":0.08,"d":"2025-07-18T15:29:00Z","p":133180,"p2":130120},{"b":"A","lvl":0.08,"d":"2025-07-24","p":132330,"p2":129270},
{"b":"B","lvl":0.2,"d":"2025-07-18T15:29:00Z","p":130120,"p2":128590},{"b":"B","lvl":0.2,"d":"2025-07-28","p":128610,"p2":127080},
{"b":"C","lvl":0.3,"d":"2025-07-18T15:29:00Z","p":128590,"p2":127060},{"b":"C","lvl":0.3,"d":"2025-08-12","p":124710,"p2":123180},
{"b":"D","lvl":0.55,"d":"2025-07-18T15:29:00Z","p":127060,"p2":125530},{"b":"D","lvl":0.55,"d":"2025-09-07","p":119070,"p2":117540},
{"b":"E","lvl":0.75,"d":"2025-07-18T15:29:00Z","p":125530,"p2":123040},{"b":"E","lvl":0.75,"d":"2025-09-27","p":114520,"p2":112030},
{"b":"F","lvl":0.7,"d":"2025-07-18T15:29:00Z","p":123040,"p2":120940},{"b":"F","lvl":0.7,"d":"2025-09-14","p":113930,"p2":111830},
{"b":"G","lvl":0.72,"d":"2025-07-18T15:29:00Z","p":120940,"p2":119700},{"b":"G","lvl":0.72,"d":"2025-09-26","p":110080,"p2":108840},
{"b":"H","lvl":1,"d":"2025-07-18T15:29:00Z","p":119700,"p2":117780},{"b":"H","lvl":1,"d":"2025-10-06","p":107140,"p2":105220},
{"b":"I","lvl":0.72,"d":"2025-07-18T15:29:00Z","p":117780,"p2":116160},{"b":"I","lvl":0.72,"d":"2025-09-17","p":108210,"p2":106590},
{"b":"J","lvl":0.58,"d":"2025-07-18T15:29:00Z","p":116160,"p2":114630},{"b":"J","lvl":0.58,"d":"2025-09-10","p":107670,"p2":106140},
{"b":"K","lvl":0.72,"d":"2025-07-18T15:29:00Z","p":114630,"p2":113190},{"b":"K","lvl":0.72,"d":"2025-09-20","p":104580,"p2":103140},
{"b":"L","lvl":0.5,"d":"2025-07-18T15:29:00Z","p":113190,"p2":111560},{"b":"L","lvl":0.5,"d":"2025-09-05","p":105510,"p2":103880},
{"b":"M","lvl":0.42,"d":"2025-07-18T15:29:00Z","p":111560,"p2":109940},{"b":"M","lvl":0.42,"d":"2025-08-24","p":105790,"p2":104170},
{"b":"N","lvl":0.5,"d":"2025-07-18T15:29:00Z","p":109940,"p2":108500},{"b":"N","lvl":0.5,"d":"2025-08-28","p":103530,"p2":102090},
{"b":"O","lvl":0.36,"d":"2025-07-18T15:29:00Z","p":108500,"p2":106920},{"b":"O","lvl":0.36,"d":"2025-08-30","p":101750,"p2":100170},
{"b":"P","lvl":0.3,"d":"2025-07-18T15:29:00Z","p":106920,"p2":105250},{"b":"P","lvl":0.3,"d":"2025-08-12","p":103040,"p2":101370},
{"b":"Q","lvl":0.2,"d":"2025-07-18T15:29:00Z","p":105250,"p2":103820},{"b":"Q","lvl":0.2,"d":"2025-08-07","p":102180,"p2":100750},
{"b":"R","lvl":0.18,"d":"2025-07-18T15:29:00Z","p":103820,"p2":102190},{"b":"R","lvl":0.18,"d":"2025-08-19","p":98820,"p2":97190}
],
"zones":[
{"d":"2026-07-01","d2":"2026-08-21","p":82480,"p2":81380,"k":"premium"},
{"d":"2026-07-01","d2":"2026-08-21","p":70860,"p2":69420,"k":"equilibrium"},
{"d":"2026-07-01","d2":"2026-08-21","p":58950,"p2":57610,"k":"discount"},
{"d":"2026-07-24T12:00:00Z","d2":"2026-08-09","p":65980,"p2":65450,"k":"grey"},
{"d":"2026-01-28T14:00:00Z","d2":"2026-01-31T07:00:00Z","p":88600,"p2":84400,"k":"obdown"},
{"d":"2026-08-19T05:00:00Z","d2":"2026-08-21T05:00:00Z","p":68850,"p2":64690,"k":"obup"},
{"d":"2026-08-20T10:00:00Z","d2":"2026-08-22T02:00:00Z","p":72820,"p2":69800,"k":"obup"}
],
"ma":[
{"d":"2025-07-19","p":97440,"k":"sma100"},{"d":"2025-07-30","p":98730,"k":"sma100"},{"d":"2025-08-08","p":99450,"k":"sma100"},{"d":"2025-08-21","p":100170,"k":"sma100"},{"d":"2025-09-09","p":101700,"k":"sma100"},{"d":"2025-09-19","p":103280,"k":"sma100"},{"d":"2025-09-30","p":104470,"k":"sma100"},{"d":"2025-10-11","p":106440,"k":"sma100"},{"d":"2025-10-22","p":108060,"k":"sma100"},{"d":"2025-10-30","p":109350,"k":"sma100"},{"d":"2025-11-08","p":110170,"k":"sma100"},{"d":"2025-11-15","p":110320,"k":"sma100"},{"d":"2025-11-22","p":110130,"k":"sma100"},{"d":"2025-12-06","p":109120,"k":"sma100"},{"d":"2025-12-23","p":107590,"k":"sma100"},{"d":"2026-01-03","p":106630,"k":"sma100"},{"d":"2026-01-11","p":106150,"k":"sma100"},{"d":"2026-01-25","p":104290,"k":"sma100"},{"d":"2026-02-09","p":101560,"k":"sma100"},{"d":"2026-02-21","p":99700,"k":"sma100"},{"d":"2026-03-10","p":94670,"k":"sma100"},{"d":"2026-03-25","p":91370,"k":"sma100"},{"d":"2026-04-09","p":88220,"k":"sma100"},{"d":"2026-04-23","p":85350,"k":"sma100"},{"d":"2026-05-03","p":83480,"k":"sma100"},{"d":"2026-05-11","p":82330,"k":"sma100"},{"d":"2026-05-23","p":80610,"k":"sma100"},{"d":"2026-06-01","p":79180,"k":"sma100"},{"d":"2026-06-12","p":77740,"k":"sma100"},{"d":"2026-06-19","p":76880,"k":"sma100"},{"d":"2026-07-01","p":75010,"k":"sma100"},{"d":"2026-07-14","p":73580,"k":"sma100"},{"d":"2026-07-28","p":71710,"k":"sma100"},{"d":"2026-08-07","p":70140,"k":"sma100"},{"d":"2026-08-19","p":68840,"k":"sma100"},{"d":"2026-08-21","p":69013,"k":"sma100"},
{"d":"2025-07-19","p":86640,"k":"sma200"},{"d":"2025-07-30","p":88220,"k":"sma200"},{"d":"2025-08-16","p":90980,"k":"sma200"},{"d":"2025-09-07","p":93960,"k":"sma200"},{"d":"2025-09-30","p":97300,"k":"sma200"},{"d":"2025-10-11","p":99080,"k":"sma200"},{"d":"2025-10-28","p":100890,"k":"sma200"},{"d":"2025-11-03","p":101700,"k":"sma200"},{"d":"2025-11-10","p":102320,"k":"sma200"},{"d":"2025-11-19","p":102460,"k":"sma200"},{"d":"2025-12-11","p":101950,"k":"sma200"},{"d":"2026-01-11","p":101270,"k":"sma200"},{"d":"2026-01-30","p":100700,"k":"sma200"},{"d":"2026-02-19","p":99450,"k":"sma200"},{"d":"2026-03-10","p":98160,"k":"sma200"},{"d":"2026-04-12","p":96830,"k":"sma200"},{"d":"2026-05-16","p":94670,"k":"sma200"},{"d":"2026-06-18","p":91950,"k":"sma200"},{"d":"2026-07-08","p":89080,"k":"sma200"},{"d":"2026-07-16","p":88220,"k":"sma200"},{"d":"2026-08-03","p":86060,"k":"sma200"},{"d":"2026-08-21","p":83444,"k":"sma200"}
],
"segs":[
{"d":"2025-08-14","d2":"2025-08-14","p":122900,"p2":124200,"s":"up","k":"solid"},{"d":"2025-08-14","d2":"2025-10-06","p":124200,"p2":124200,"s":"up","k":"solid"},
{"d":"2025-07-25","d2":"2025-07-25","p":116900,"p2":114500,"s":"down","k":"solid"},{"d":"2025-07-25","d2":"2025-07-31","p":114500,"p2":114500,"s":"down","k":"dash"},
{"d":"2025-08-03","d2":"2025-08-03","p":112600,"p2":111760,"s":"down","k":"solid"},{"d":"2025-08-03","d2":"2025-08-22","p":111760,"p2":111760,"s":"down","k":"dash"},
{"d":"2025-09-26","d2":"2025-10-17","p":108400,"p2":108400,"s":"down","k":"dash"},
{"d":"2025-10-17","d2":"2025-10-17","p":106000,"p2":103300,"s":"down","k":"solid"},{"d":"2025-10-17","d2":"2025-11-04","p":103300,"p2":103300,"s":"down","k":"dash"},
{"d":"2025-11-05","d2":"2025-11-05","p":101100,"p2":98650,"s":"down","k":"solid"},{"d":"2025-11-05","d2":"2025-11-13","p":98650,"p2":98650,"s":"down","k":"dash"},
{"d":"2025-12-07","d2":"2025-12-07","p":88900,"p2":87450,"s":"down","k":"solid"},{"d":"2025-12-07","d2":"2025-12-14","p":87450,"p2":87450,"s":"down","k":"dash"},
{"d":"2025-12-22","d2":"2025-12-22","p":90200,"p2":87260,"s":"down","k":"solid"},{"d":"2025-12-22","d2":"2025-12-30","p":90200,"p2":90200,"s":"down","k":"dot"},{"d":"2025-12-30","d2":"2025-12-30","p":90200,"p2":87700,"s":"down","k":"solid"},
{"d":"2026-01-05","d2":"2026-01-05","p":92520,"p2":94430,"s":"up","k":"solid"},{"d":"2026-01-05","d2":"2026-01-11","p":94430,"p2":94430,"s":"up","k":"dash"},
{"d":"2026-01-08","d2":"2026-01-08","p":91090,"p2":89030,"s":"down","k":"solid"},{"d":"2026-01-08","d2":"2026-01-21","p":89030,"p2":89030,"s":"down","k":"dash"},
{"d":"2025-11-21","d2":"2025-11-21","p":84870,"p2":80420,"s":"down","k":"solid"},{"d":"2025-11-21","d2":"2026-01-31","p":80420,"p2":80420,"s":"down","k":"solid"},
{"d":"2026-02-06","d2":"2026-02-06","p":62870,"p2":59760,"s":"down","k":"solid"},{"d":"2026-02-06","d2":"2026-06-24","p":59760,"p2":59760,"s":"down","k":"solid"},
{"d":"2026-02-15","d2":"2026-02-15","p":68600,"p2":70760,"s":"up","k":"solid"},{"d":"2026-02-15","d2":"2026-03-04","p":70760,"p2":70760,"s":"up","k":"dash"},
{"d":"2026-02-12","d2":"2026-02-12","p":65980,"p2":64920,"s":"down","k":"solid"},{"d":"2026-02-12","d2":"2026-02-23","p":64920,"p2":64920,"s":"down","k":"dash"},
{"d":"2026-03-17","d2":"2026-03-17","p":74580,"p2":75820,"s":"up","k":"solid"},{"d":"2026-03-17","d2":"2026-04-17","p":75820,"p2":75820,"s":"up","k":"dash"},
{"d":"2026-04-22","d2":"2026-04-22","p":79230,"p2":78180,"s":"down","k":"solid"},{"d":"2026-04-22","d2":"2026-04-27","p":79230,"p2":79230,"s":"down","k":"dot"},{"d":"2026-04-27","d2":"2026-04-27","p":79230,"p2":77200,"s":"down","k":"solid"},
{"d":"2026-04-27","d2":"2026-05-03","p":79230,"p2":79230,"s":"up","k":"dash"},{"d":"2026-05-03","d2":"2026-05-03","p":79130,"p2":77930,"s":"down","k":"solid"},
{"d":"2026-05-06","d2":"2026-05-06","p":81280,"p2":82580,"s":"down","k":"solid"},{"d":"2026-05-06","d2":"2026-09-10","p":82580,"p2":82580,"s":"down","k":"solid"},
{"d":"2026-04-29","d2":"2026-04-29","p":76260,"p2":74730,"s":"down","k":"solid"},{"d":"2026-04-29","d2":"2026-05-26","p":74730,"p2":74730,"s":"down","k":"dash"},
{"d":"2026-05-21","d2":"2026-05-26","p":77940,"p2":77940,"s":"down","k":"dot"},{"d":"2026-05-21","d2":"2026-05-21","p":77940,"p2":76500,"s":"down","k":"solid"},{"d":"2026-05-26","d2":"2026-05-26","p":77940,"p2":76500,"s":"down","k":"solid"},
{"d":"2026-06-05","d2":"2026-06-05","p":60720,"p2":58900,"s":"down","k":"solid"},{"d":"2026-06-05","d2":"2026-06-30","p":58900,"p2":58900,"s":"down","k":"dash"},
{"d":"2026-07-06","d2":"2026-07-06","p":64500,"p2":61900,"s":"down","k":"solid"},{"d":"2026-07-06","d2":"2026-07-10","p":64500,"p2":64500,"s":"down","k":"dot"},{"d":"2026-07-10","d2":"2026-07-10","p":64500,"p2":63300,"s":"down","k":"solid"},
{"d":"2026-07-17","d2":"2026-07-17","p":63730,"p2":62300,"s":"up","k":"solid"},{"d":"2026-07-17","d2":"2026-08-01","p":62300,"p2":62050,"s":"up","k":"dot"},
{"d":"2026-08-09","d2":"2026-08-19","p":65160,"p2":65160,"s":"up","k":"dash"},
{"d":"2026-07-01","d2":"2026-07-01","p":58330,"p2":57610,"s":"up","k":"solid"},{"d":"2026-07-01","d2":"2026-09-10","p":57610,"p2":57610,"s":"up","k":"solid"},
{"d":"2026-08-20","d2":"2026-09-10","p":73200,"p2":73200,"s":"pd","k":"solid"},{"d":"2026-08-20","d2":"2026-08-20","p":73200,"p2":72800,"s":"pd","k":"solid"},{"d":"2026-08-20","d2":"2026-09-10","p":68650,"p2":68650,"s":"pd","k":"solid"}
],
"notes":[
{"t":"BOS","tier":"big","s":"up","d":"2025-09-10","p":127060},
{"t":"CHoCH","tier":"big","s":"down","d":"2025-12-27","p":77790},
{"t":"BOS","tier":"big","s":"down","d":"2026-04-17","p":57120},
{"t":"Premium","tier":"big","s":"down","d":"2026-07-27","p":85350},
{"t":"Discount","tier":"big","s":"up","d":"2026-07-27","p":54970},
{"t":"Equilibrium","tier":"big","s":"eq","d":"2026-09-03","p":70130},
{"t":"PDH","tier":"big","s":"pd","d":"2026-09-17","p":73200},
{"t":"PDL","tier":"big","s":"pd","d":"2026-09-17","p":68650},
{"t":"CHoCH","tier":"small","s":"down","d":"2025-07-29","p":112500},
{"t":"BOS","tier":"small","s":"down","d":"2025-08-14","p":109650},
{"t":"BOS","tier":"small","s":"down","d":"2025-10-06","p":106300},
{"t":"BOS","tier":"small","s":"down","d":"2025-10-26","p":101300},
{"t":"BOS","tier":"small","s":"down","d":"2025-11-10","p":96740},
{"t":"BOS","tier":"small","s":"down","d":"2025-12-11","p":85500},
{"t":"EQH","tier":"small","s":"down","d":"2025-12-26","p":92500},
{"t":"CHoCH","tier":"small","s":"up","d":"2026-01-09","p":96830},
{"t":"CHoCH","tier":"small","s":"down","d":"2026-01-14","p":86920},
{"t":"CHoCH","tier":"small","s":"up","d":"2026-02-24","p":73150},
{"t":"BOS","tier":"small","s":"down","d":"2026-02-18","p":63000},
{"t":"BOS","tier":"small","s":"up","d":"2026-04-02","p":78170},
{"t":"EQH","tier":"small","s":"down","d":"2026-04-25","p":81620},
{"t":"BOS","tier":"small","s":"up","d":"2026-05-01","p":81620},
{"t":"CHoCH","tier":"small","s":"down","d":"2026-05-13","p":72630},
{"t":"EQH","tier":"small","s":"down","d":"2026-05-24","p":80180},
{"t":"BOS","tier":"small","s":"down","d":"2026-06-18","p":56800},
{"t":"EQH","tier":"small","s":"down","d":"2026-07-08","p":66840},
{"t":"EQL","tier":"small","s":"up","d":"2026-07-25","p":60100},
{"t":"CHoCH","tier":"small","s":"up","d":"2026-08-14","p":67560},
{"t":"Strong High","tier":"small","s":"down","d":"2026-09-10","p":84960},
{"t":"Weak Low","tier":"small","s":"up","d":"2026-09-10","p":55540}
],
"tags":[
{"d":"2026-11-27T06:30:00Z","d2":"2026-12-21T18:40:00Z","p":85630,"p2":82620,"k":"sma200"},
{"d":"2026-11-27T06:30:00Z","d2":"2026-12-21T18:40:00Z","p":82620,"p2":74010,"k":"last"},
{"d":"2026-11-06T03:20:00Z","d2":"2026-11-27T06:30:00Z","p":79610,"p2":76590,"k":"last"},
{"d":"2026-11-27T06:30:00Z","d2":"2026-12-21T18:40:00Z","p":70280,"p2":67310,"k":"sma100"},
{"d":"2026-11-27T06:30:00Z","d2":"2026-12-16T08:20:00Z","p":43870,"p2":40860,"k":"vol"}
],
"tagtext":[
{"t":"83,444.42","d":"2026-11-30T09:00:00Z","p":84270,"k":"dark"},
{"t":"78,307.84","d":"2026-11-30T09:00:00Z","p":81180,"k":"light"},
{"t":"78,307.84","d":"2026-11-30T09:00:00Z","p":78200,"k":"light"},
{"t":"02:08:25","d":"2026-11-30T09:00:00Z","p":75630,"k":"dim"},
{"t":"BTCUSDT","d":"2026-11-07T14:30:00Z","p":78100,"k":"light"},
{"t":"69,013.07","d":"2026-11-30T09:00:00Z","p":68890,"k":"light"},
{"t":"42.27K","d":"2026-11-30T09:00:00Z","p":42370,"k":"light"},
{"t":"USDT","d":"2026-12-01T16:20:00Z","p":134000,"k":"dark"}
]
},
"layer":[
{
"data":{"name":"candles"},
"mark":{"type":"bar","width":2.3},
"encoding":{
"x":{"field":"d","type":"temporal","title":null,
"scale":{"type":"utc","padding":0,"domain":["2025-07-18T15:29:00Z","2026-12-25T10:41:00Z"]},
"axis":{"orient":"bottom","offset":-35,"values":["2025-08-01","2025-09-01","2025-10-01","2025-11-01","2025-12-01","2026-01-01","2026-02-01","2026-03-01","2026-04-01","2026-05-01","2026-06-01","2026-07-01","2026-08-01","2026-09-01","2026-10-01","2026-11-01"],
"labelExpr":"utcmonth(datum.value)==0?'2026':utcFormat(datum.value,'%b')",
"labelFontWeight":{"condition":{"test":"utcmonth(datum.value)==0","value":"bold"},"value":"normal"},
"labelFontSize":14.5,"labelColor":"#131722","labelPadding":9,"labelFlush":false,"labelOverlap":false,"labelBound":false,"ticks":false,"domain":false,"grid":false,"title":null}},
"y":{"field":"v","type":"quantitative","axis":null,"scale":{"padding":0,"domain":[-20000,418857],"nice":false,"zero":false}},
"y2":{"datum":0},
"color":{"condition":{"test":"datum.c>=datum.o","value":"#92d2cc"},"value":"#f7a9a7"}
}
},
{
"resolve":{"scale":{"color":"independent"}},
"layer":[
{
"data":{"name":"channel"},
"mark":{"type":"area","color":"#789e8c","opacity":0.05},
"encoding":{
"x":{"field":"d","type":"temporal","title":null},
"y":{"field":"top","type":"quantitative","title":null,
"scale":{"padding":0,"domain":[26798,137030],"nice":false,"zero":false},
"axis":{"orient":"right","offset":-97,"values":[40000,50000,60000,70000,80000,90000,100000,110000,120000,130000],"format":",.2f",
"labelFontWeight":{"condition":{"test":"datum.value==50000||datum.value==100000","value":"bold"},"value":"normal"},
"labelFontSize":14.5,"labelColor":"#131722","labelPadding":11,"labelOverlap":false,"labelBound":false,"ticks":false,"domain":false,"grid":false,"title":null}},
"y2":{"field":"bot"}
}
},
{
"data":{"name":"bands"},
"mark":{"type":"area"},
"encoding":{
"x":{"field":"d","type":"temporal","title":null},
"y":{"field":"p","type":"quantitative","title":null},
"y2":{"field":"p2"},
"detail":{"field":"b"},
"color":{"field":"lvl","type":"quantitative","legend":null,"scale":{"domain":[0,1],"range":["#ecf9fe","#38c5ff"]}}
}
},
{
"data":{"name":"rays"},
"mark":{"type":"rule"},
"encoding":{
"x":{"field":"d","type":"temporal","title":null},"x2":{"field":"d2"},
"y":{"field":"p","type":"quantitative","title":null},"y2":{"field":"p2"},
"color":{"field":"k","legend":null,"scale":{"domain":["outer","inner"],"range":["#787b86","#9ae3fb"]}},
"strokeWidth":{"field":"k","legend":null,"scale":{"domain":["outer","inner"],"range":[1.8,1.2]}}
}
},
{
"data":{"name":"zones"},
"mark":{"type":"rect"},
"encoding":{
"x":{"field":"d","type":"temporal","title":null},"x2":{"field":"d2"},
"y":{"field":"p","type":"quantitative","title":null},"y2":{"field":"p2"},
"color":{"field":"k","legend":null,"scale":{"domain":["premium","equilibrium","discount","grey","obdown","obup"],"range":["#fad3d6","#d9d0ea","#c4e5e0","#ccc6d6","#f6a9af","#a6efb6"]}}
}
},
{
"data":{"name":"ma"},
"mark":{"type":"line","strokeWidth":2.6,"interpolate":"monotone"},
"encoding":{
"x":{"field":"d","type":"temporal","title":null},
"y":{"field":"p","type":"quantitative","title":null},
"color":{"field":"k","legend":null,"scale":{"domain":["sma100","sma200"],"range":["#673ab7","#ff9800"]}}
}
},
{
"data":{"name":"segs"},
"mark":{"type":"rule","strokeWidth":1.2},
"encoding":{
"x":{"field":"d","type":"temporal","title":null},"x2":{"field":"d2"},
"y":{"field":"p","type":"quantitative","title":null},"y2":{"field":"p2"},
"color":{"field":"s","legend":null,"scale":{"domain":["up","down","pd"],"range":["#089981","#f23645","#2962ff"]}},
"strokeDash":{"field":"k","legend":null,"scale":{"domain":["solid","dash","dot"],"range":[[1,0],[7,5],[2,2]]}}
}
},
{
"data":{"name":"candles"},
"mark":{"type":"rule","strokeWidth":1},
"encoding":{
"x":{"field":"d","type":"temporal","title":null},
"y":{"field":"l","type":"quantitative","title":null},"y2":{"field":"h"},
"color":{"condition":{"test":"datum.c>=datum.o","value":"#089981"},"value":"#f23645"}
}
},
{
"data":{"name":"candles"},
"mark":{"type":"bar","width":2.8},
"encoding":{
"x":{"field":"d","type":"temporal","title":null},
"y":{"field":"o","type":"quantitative","title":null},"y2":{"field":"c"},
"color":{"condition":{"test":"datum.c>=datum.o","value":"#089981"},"value":"#f23645"}
}
},
{
"data":{"name":"notes"},
"transform":[{"filter":"datum.tier=='big'"}],
"mark":{"type":"text","fontSize":12.2,"font":"Lato"},
"encoding":{
"x":{"field":"d","type":"temporal","title":null},
"y":{"field":"p","type":"quantitative","title":null},
"text":{"field":"t"},
"color":{"field":"s","legend":null,"scale":{"domain":["up","down","pd","eq"],"range":["#089981","#f23645","#2962ff","#673ab7"]}}
}
},
{
"data":{"name":"notes"},
"transform":[{"filter":"datum.tier=='small'"}],
"mark":{"type":"text","fontSize":9,"font":"Lato"},
"encoding":{
"x":{"field":"d","type":"temporal","title":null},
"y":{"field":"p","type":"quantitative","title":null},
"text":{"field":"t"},
"color":{"field":"s","legend":null,"scale":{"domain":["up","down"],"range":["#089981","#f23645"]}}
}
},
{
"data":{"values":[{"d":"2026-08-21","p":34260}]},
"mark":{"type":"point","shape":"circle","filled":false,"fill":"white","fillOpacity":1,"stroke":"#9c27b0","strokeWidth":2,"size":620,"opacity":1},
"encoding":{
"x":{"field":"d","type":"temporal","title":null},
"y":{"field":"p","type":"quantitative","title":null}
}
},
{
"data":{"values":[{"d":"2026-08-21","p":34260,"t":"⚡"}]},
"mark":{"type":"text","font":"DejaVu Sans","fontSize":18,"color":"#9c27b0"},
"encoding":{
"x":{"field":"d","type":"temporal","title":null},
"y":{"field":"p","type":"quantitative","title":null},
"text":{"field":"t"}
}
},
{
"data":{"values":[{"d":"2026-11-28T10:45:00Z","d2":"2026-12-24T06:40:00Z","p":136290,"p2":131700}]},
"mark":{"type":"rect","fill":"white","stroke":"#eceef3","strokeWidth":1,"cornerRadius":6},
"encoding":{
"x":{"field":"d","type":"temporal","title":null},"x2":{"field":"d2"},
"y":{"field":"p","type":"quantitative","title":null},"y2":{"field":"p2"}
}
},
{
"data":{"name":"tags"},
"mark":{"type":"rect","cornerRadius":2},
"encoding":{
"x":{"field":"d","type":"temporal","title":null},"x2":{"field":"d2"},
"y":{"field":"p","type":"quantitative","title":null},"y2":{"field":"p2"},
"color":{"field":"k","legend":null,"scale":{"domain":["sma200","last","sma100","vol"],"range":["#ff9800","#089981","#673ab7","#26a69a"]}}
}
},
{
"data":{"name":"tagtext"},
"mark":{"type":"text","align":"left","fontSize":14.5},
"encoding":{
"x":{"field":"d","type":"temporal","title":null},
"y":{"field":"p","type":"quantitative","title":null},
"text":{"field":"t"},
"color":{"field":"k","legend":null,"scale":{"domain":["dark","light","dim"],"range":["#131722","#ffffff","#bfe3dd"]}}
}
}
]
}
],
"resolve":{"scale":{"y":"independent"}}
}
